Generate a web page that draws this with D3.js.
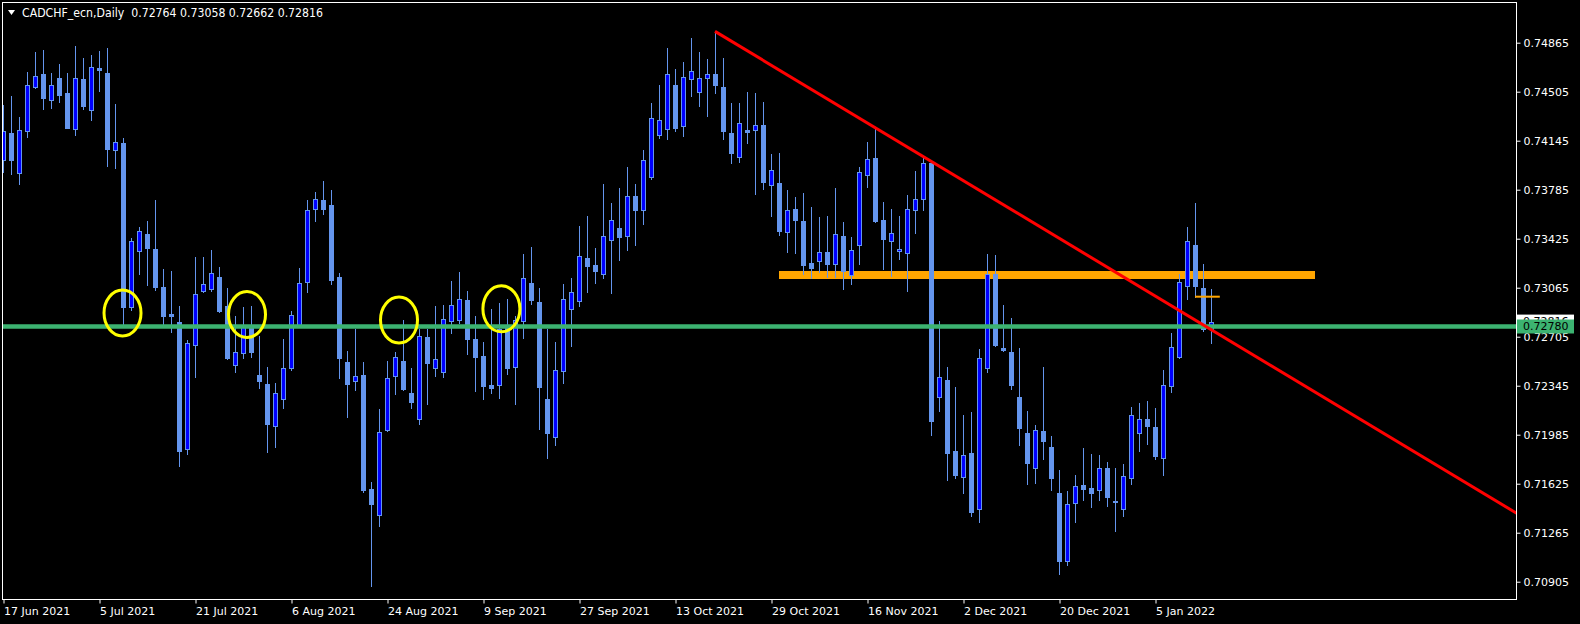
<!DOCTYPE html>
<html><head><meta charset="utf-8">
<script src="https://cdn.jsdelivr.net/npm/d3@7"></script>
<style>html,body{margin:0;padding:0;background:#000;overflow:hidden}</style>
</head><body>
<svg id="chart" width="1580" height="624"></svg>
<script>
const symbolTitle = "CADCHF_ecn,Daily";
const opens = [0.74003,0.74202,0.73908,0.74217,0.74540,0.74636,0.74444,0.74606,0.74496,0.74231,0.74599,0.74371,0.74679,0.74643,0.74077,0.74128,0.72924,0.73335,0.73460,0.73349,0.73071,0.72872,0.72813,0.71880,0.72644,0.73041,0.73056,0.73144,0.72931,0.72497,0.72585,0.72791,0.72423,0.72358,0.72049,0.72247,0.72475,0.72791,0.73107,0.73643,0.73710,0.73673,0.73144,0.72519,0.72380,0.72423,0.71586,0.71395,0.72020,0.72416,0.72527,0.72292,0.72100,0.72703,0.72475,0.72445,0.72821,0.72828,0.72975,0.72688,0.72563,0.72350,0.72350,0.72791,0.72482,0.72821,0.73100,0.72960,0.72247,0.71968,0.72453,0.72909,0.72968,0.73283,0.73232,0.73166,0.73416,0.73504,0.73445,0.73739,0.73636,0.73879,0.74187,0.74231,0.74554,0.74253,0.74599,0.74503,0.74606,0.74636,0.74540,0.74202,0.74026,0.74224,0.74224,0.74261,0.73820,0.73834,0.73475,0.73643,0.73556,0.73247,0.73261,0.73327,0.73239,0.73445,0.73158,0.73379,0.73893,0.74018,0.73563,0.73409,0.73335,0.73320,0.73636,0.73717,0.73981,0.72262,0.72387,0.71866,0.71674,0.71851,0.71439,0.72475,0.73166,0.72622,0.72593,0.72262,0.71998,0.71740,0.72013,0.71895,0.71557,0.71057,0.71483,0.71615,0.71593,0.71579,0.71740,0.71498,0.71439,0.71667,0.71998,0.72100,0.72042,0.71814,0.72343,0.72556,0.73078,0.73379,0.73063,0.72764];
const highs = [0.74407,0.74474,0.74320,0.74650,0.74797,0.74812,0.74643,0.74709,0.74643,0.74841,0.74753,0.74775,0.74805,0.74827,0.74415,0.74165,0.73431,0.73512,0.73556,0.73710,0.73203,0.73188,0.72931,0.72681,0.73291,0.73291,0.73342,0.73217,0.73063,0.72857,0.72924,0.72931,0.72710,0.72482,0.72365,0.72688,0.72894,0.73210,0.73710,0.73768,0.73849,0.73783,0.73173,0.72600,0.72762,0.72519,0.71637,0.72174,0.72527,0.72593,0.72828,0.72475,0.72762,0.72762,0.72931,0.72938,0.73114,0.73180,0.73041,0.72857,0.72666,0.72909,0.72953,0.72982,0.72857,0.73313,0.73364,0.73063,0.72762,0.72666,0.73092,0.73136,0.73519,0.73592,0.73357,0.73827,0.73688,0.73798,0.73952,0.73827,0.74077,0.74422,0.74554,0.74827,0.74672,0.74723,0.74900,0.74797,0.74745,0.74948,0.74753,0.74422,0.74422,0.74503,0.74496,0.74429,0.74047,0.74055,0.73783,0.73732,0.73761,0.73658,0.73585,0.73592,0.73798,0.73548,0.73438,0.73952,0.74135,0.74238,0.73695,0.73643,0.73592,0.73746,0.73923,0.74018,0.73989,0.72821,0.72482,0.72336,0.72130,0.72152,0.72615,0.73313,0.73305,0.72938,0.72843,0.72622,0.72159,0.72056,0.72482,0.71976,0.71726,0.71571,0.71689,0.71887,0.71843,0.71836,0.71785,0.71740,0.71770,0.72189,0.72218,0.72233,0.72181,0.72460,0.72732,0.73166,0.73512,0.73688,0.73239,0.73058];
const lows = [0.73915,0.73901,0.73827,0.74173,0.74532,0.74378,0.74385,0.74429,0.74236,0.74187,0.74378,0.74297,0.74511,0.73959,0.73944,0.72799,0.72901,0.73166,0.73085,0.73048,0.72791,0.72739,0.71755,0.71844,0.72409,0.73034,0.73041,0.72887,0.72541,0.72445,0.72548,0.72556,0.72328,0.71858,0.71895,0.72181,0.72460,0.72784,0.73034,0.73556,0.73607,0.73092,0.72402,0.72115,0.72314,0.71564,0.70874,0.71314,0.72013,0.72284,0.72314,0.72181,0.72064,0.72211,0.72416,0.72409,0.72732,0.72806,0.72578,0.72306,0.72247,0.72292,0.72255,0.72431,0.72211,0.72696,0.72946,0.72027,0.71814,0.71910,0.72365,0.72637,0.72931,0.73034,0.73100,0.73136,0.73026,0.73269,0.73342,0.73379,0.73533,0.73864,0.74165,0.74158,0.74217,0.74180,0.74474,0.74400,0.74327,0.74496,0.74158,0.73981,0.73989,0.74128,0.73754,0.73790,0.73592,0.73452,0.73327,0.73320,0.73166,0.73136,0.73180,0.73144,0.73144,0.73056,0.73092,0.73239,0.73805,0.73548,0.73203,0.73151,0.73276,0.73041,0.73467,0.73636,0.71983,0.72159,0.71652,0.71667,0.71557,0.71388,0.71344,0.72445,0.72637,0.72600,0.72321,0.71910,0.71623,0.71630,0.71807,0.71579,0.70962,0.71028,0.71344,0.71505,0.71454,0.71505,0.71461,0.71277,0.71388,0.71623,0.71866,0.71917,0.71807,0.71689,0.72299,0.72548,0.72982,0.72997,0.72747,0.72662];
const closes = [0.74217,0.74003,0.74224,0.74554,0.74621,0.74459,0.74554,0.74481,0.74240,0.74606,0.74400,0.74687,0.74665,0.74084,0.74135,0.72924,0.73409,0.73482,0.73357,0.73071,0.72857,0.72857,0.71866,0.72659,0.73019,0.73092,0.73173,0.72894,0.72548,0.72593,0.72791,0.72593,0.72380,0.72064,0.72292,0.72475,0.72865,0.73100,0.73636,0.73717,0.73643,0.73122,0.72548,0.72358,0.72416,0.71579,0.71476,0.72005,0.72402,0.72556,0.72321,0.72225,0.72710,0.72512,0.72541,0.72835,0.72938,0.72982,0.72688,0.72556,0.72343,0.72328,0.72762,0.72475,0.72828,0.73136,0.72975,0.72336,0.71998,0.72460,0.72982,0.73034,0.73298,0.73225,0.73188,0.73445,0.73563,0.73438,0.73739,0.73636,0.74003,0.74312,0.74297,0.74636,0.74238,0.74613,0.74657,0.74606,0.74636,0.74554,0.74217,0.74055,0.74275,0.74209,0.74261,0.73842,0.73930,0.73482,0.73636,0.73563,0.73232,0.73210,0.73327,0.73239,0.73460,0.73188,0.73342,0.73915,0.74011,0.73556,0.73423,0.73467,0.73349,0.73643,0.73717,0.73981,0.72086,0.72409,0.71851,0.71689,0.71836,0.71417,0.72548,0.73166,0.72644,0.72607,0.72350,0.72034,0.71777,0.72020,0.71939,0.71667,0.71057,0.71476,0.71608,0.71586,0.71557,0.71740,0.71527,0.71490,0.71682,0.72130,0.72100,0.72049,0.71829,0.72350,0.72629,0.73107,0.73409,0.73078,0.72762,0.72816];
const dateTickIdx = [0,12,24,36,48,60,72,84,96,108,120,132,144];
const dateTickLabels = ["17 Jun 2021","5 Jul 2021","21 Jul 2021","6 Aug 2021","24 Aug 2021","9 Sep 2021","27 Sep 2021","13 Oct 2021","29 Oct 2021","16 Nov 2021","2 Dec 2021","20 Dec 2021","5 Jan 2022"];
const priceTicks = [0.74865,0.74505,0.74145,0.73785,0.73425,0.73065,0.72705,0.72345,0.71985,0.71625,0.71265,0.70905];
const supportLevel = 0.72780;
const resistanceLevel = 0.73159;
const resistanceSpan = [97, 164];
const markLevel = 0.72999;
const markSpan = [149, 152.1];
const trendIdx = [89, 189.2];
const trendPrice = [0.74948, 0.71408];
const circleIdx = [14.94, 30.5, 49.5, 62.3];
const circlePrice = [0.72879, 0.72868, 0.72828, 0.72910];

const W = 1580, H = 624;
const L = 2, R = 1516, T = 2, B = 599;
const svg = d3.select("#chart");
svg.append("rect").attr("width", W).attr("height", H).attr("fill", "#000");

const x = d3.scaleLinear().domain([0, 189]).range([3, 1515]);
const y = d3.scaleLinear().domain([0.75164, 0.70778]).range([T, B]);

svg.append("defs").append("clipPath").attr("id", "plot")
  .append("rect").attr("x", L).attr("y", T).attr("width", R - L).attr("height", B - T);

const g = svg.append("g").attr("clip-path", "url(#plot)");

// resistance band (behind candles)
g.append("line")
  .attr("x1", x(resistanceSpan[0])).attr("x2", x(resistanceSpan[1]))
  .attr("y1", y(resistanceLevel)).attr("y2", y(resistanceLevel))
  .attr("stroke", "#FFA500").attr("stroke-width", 8);

const bars = opens.map((o, i) => ({i, o, h: highs[i], l: lows[i], c: closes[i]}));
const BORDER = "#6495ED", UP = "#0000FF";

g.selectAll("line.wick").data(bars).enter().append("line")
  .attr("class", "wick")
  .attr("x1", d => Math.round(x(d.i)) + 0.5).attr("x2", d => Math.round(x(d.i)) + 0.5)
  .attr("y1", d => Math.round(y(d.h))).attr("y2", d => Math.round(y(d.l)) + 1)
  .attr("stroke", BORDER).attr("stroke-width", 1);

bars.forEach(d => {
  const cx = Math.round(x(d.i));
  const top = Math.round(y(Math.max(d.o, d.c)));
  const bot = Math.round(y(Math.min(d.o, d.c)));
  const hgt = Math.max(1, bot - top + 1);
  g.append("rect").attr("x", cx - 2).attr("y", top).attr("width", 5).attr("height", hgt)
    .attr("fill", BORDER);
  if (d.c > d.o && hgt > 2) {
    g.append("rect").attr("x", cx - 1).attr("y", top + 1).attr("width", 3).attr("height", hgt - 2)
      .attr("fill", UP);
  }
});

// small marker line
g.append("line")
  .attr("x1", x(markSpan[0])).attr("x2", x(markSpan[1]))
  .attr("y1", y(markLevel)).attr("y2", y(markLevel))
  .attr("stroke", "#FFA500").attr("stroke-width", 2);

// support line
g.append("line")
  .attr("x1", 0).attr("x2", R)
  .attr("y1", y(supportLevel)).attr("y2", y(supportLevel))
  .attr("stroke", "#3CB371").attr("stroke-width", 4.5);

// trend line
g.append("line")
  .attr("x1", x(trendIdx[0])).attr("x2", x(trendIdx[1]))
  .attr("y1", y(trendPrice[0])).attr("y2", y(trendPrice[1]))
  .attr("stroke", "#FF0000").attr("stroke-width", 3);

// circles
g.selectAll("ellipse").data(circleIdx).enter().append("ellipse")
  .attr("cx", (d, k) => x(d)).attr("cy", (d, k) => y(circlePrice[k]))
  .attr("rx", 18.5).attr("ry", 23)
  .attr("fill", "none").attr("stroke", "#FFFF00").attr("stroke-width", 3);

// frame
svg.append("rect").attr("x", L + 0.5).attr("y", T + 0.5).attr("width", R - L).attr("height", B - T)
  .attr("fill", "none").attr("stroke", "#fff").attr("stroke-width", 1);

const FONT = "'DejaVu Sans', sans-serif";

// price axis
const yAxis = d3.axisRight(y).tickValues(priceTicks).tickSize(4).tickPadding(3)
  .tickFormat(d3.format(".5f"));
const ya = svg.append("g").attr("transform", `translate(${R + 0.5},0)`).call(yAxis);
ya.select(".domain").remove();
ya.selectAll("line").attr("stroke", "#fff");
ya.selectAll("text").attr("fill", "#fff").style("font-family", FONT).style("font-size", "11px");

// date axis
const xAxis = d3.axisBottom(x).tickValues(dateTickIdx).tickSize(4).tickPadding(4)
  .tickFormat((d, k) => dateTickLabels[k]);
const xa = svg.append("g").attr("transform", `translate(0.5,${B + 0.5})`).call(xAxis);
xa.select(".domain").remove();
xa.selectAll("line").attr("stroke", "#fff");
xa.selectAll("text").attr("fill", "#fff").attr("text-anchor", "start").attr("x", 0)
  .style("font-family", FONT).style("font-size", "11px");

// price labels
const last = closes[closes.length - 1];
function priceLabel(v, bg) {
  const yy = y(v);
  svg.append("rect").attr("x", R + 1).attr("y", yy - 7).attr("width", 57).attr("height", 14).attr("fill", bg);
  svg.append("text").attr("x", R + 7).attr("y", yy).attr("dy", "0.35em")
    .attr("fill", "#000").style("font-family", FONT).style("font-size", "11px").text(d3.format(".5f")(v));
}
priceLabel(last, "#fff");
priceLabel(supportLevel, "#3CB371");

// header
svg.append("path").attr("d", d3.line()([[8, 10], [15, 10], [11.5, 15]]) + "Z").attr("fill", "#fff");
const n = closes.length - 1;
svg.append("text").attr("x", 22).attr("y", 17).attr("fill", "#fff")
  .attr("textLength", 301).attr("lengthAdjust", "spacingAndGlyphs")
  .style("font-family", FONT).style("font-size", "11.5px").style("white-space", "pre")
  .text(`${symbolTitle}  ${opens[n].toFixed(5)} ${highs[n].toFixed(5)} ${lows[n].toFixed(5)} ${closes[n].toFixed(5)}`);
</script>
</body></html>
